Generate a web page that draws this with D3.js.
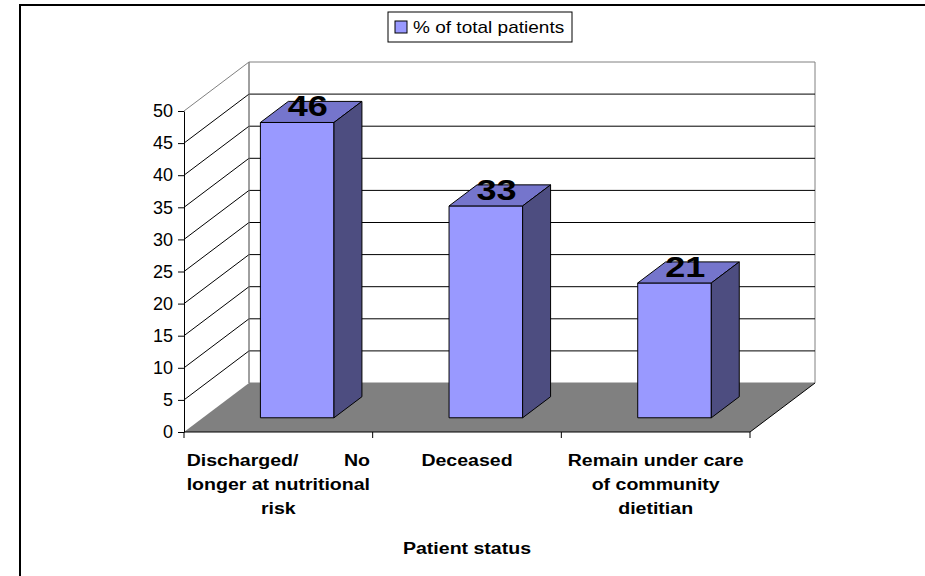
<!DOCTYPE html>
<html>
<head>
<meta charset="utf-8">
<script src="https://cdn.jsdelivr.net/npm/d3@7"></script>
<style>
  body { margin: 0; background: #fff; }
  svg { display: block; font-family: Arial, "Liberation Sans", sans-serif; }
</style>
</head>
<body>
<div id="chart"></div>
<script>
// data
const categories = ['Discharged/ No longer at nutritional risk', 'Deceased', 'Remain under care of community dietitian'];
const values = [46, 33, 21];
const categoryLines = [
  [['Discharged/', 'No'], 'longer at nutritional', 'risk'],
  ['Deceased'],
  ['Remain under care', 'of community', 'dietitian']
];
const yTicks = [0, 5, 10, 15, 20, 25, 30, 35, 40, 45, 50];
const seriesName = '% of total patients';
const xTitle = 'Patient status';

const width = 925;
const height = 576;

// 3d projection: depth offset of the back wall
const depth = { dx: 65, dy: 49 };
const barDepth = [0.29, 0.72];
// the source text is a little wider than plain Arial
const stretch = 1.15;

const colors = {
  front: '#9999ff',
  top: '#7575cc',
  side: '#4d4d80',
  floor: '#808080',
  wallEdge: '#808080'
};

const svg = d3.select('#chart')
  .append('svg')
  .attr('width', width)
  .attr('height', height);

// text placed at (px, py) and stretched horizontally
function wideText(parent, px, py, str, anchor, sx = stretch) {
  return parent.append('text')
    .attr('transform', `translate(${px},${py}) scale(${sx},1)`)
    .attr('text-anchor', anchor)
    .text(str);
}

// outer chart frame
svg.append('rect')
  .attr('x', 20)
  .attr('y', 5)
  .attr('width', 940)
  .attr('height', 600)
  .attr('fill', 'none')
  .attr('stroke', '#000')
  .attr('stroke-width', 2);

const x = d3.scaleBand().domain(categories).range([184, 750]).padding(0);
const y = d3.scaleLinear().domain([0, 50]).range([432, 111]);
const barW = x.bandwidth() * 0.39;

const [x0, x1] = x.range();
const p = (px, v, d) => [px + d * depth.dx, y(v) - d * depth.dy];

// left wall and back wall
const plot = svg.append('g');
plot.append('path')
  .attr('d', d3.line()([p(x0, 0, 1), p(x1, 0, 1), p(x1, 50, 1), p(x0, 50, 1)]) + 'Z')
  .attr('fill', '#fff')
  .attr('stroke', colors.wallEdge);

// floor
plot.append('path')
  .attr('d', d3.line()([p(x0, 0, 0), p(x1, 0, 0), p(x1, 0, 1), p(x0, 0, 1)]) + 'Z')
  .attr('fill', colors.floor)
  .attr('stroke', 'none');
plot.append('line')
  .attr('x1', p(x1, 0, 0)[0]).attr('y1', p(x1, 0, 0)[1])
  .attr('x2', p(x1, 0, 1)[0]).attr('y2', p(x1, 0, 1)[1])
  .attr('stroke', '#000');

// gridlines: diagonal on the left wall, horizontal on the back wall
const grid = yTicks.filter(v => v > 0);
plot.selectAll('.diag')
  .data(grid)
  .join('line')
  .attr('x1', v => p(x0, v, 0)[0]).attr('y1', v => p(x0, v, 0)[1])
  .attr('x2', v => p(x0, v, 1)[0]).attr('y2', v => p(x0, v, 1)[1])
  .attr('stroke', v => v === 50 ? colors.wallEdge : '#000');
plot.selectAll('.hgrid')
  .data(grid.filter(v => v < 50))
  .join('line')
  .attr('x1', v => p(x0, v, 1)[0]).attr('y1', v => p(x0, v, 1)[1])
  .attr('x2', v => p(x1, v, 1)[0]).attr('y2', v => p(x1, v, 1)[1])
  .attr('stroke', '#000');
plot.append('line')
  .attr('x1', p(x0, 0, 1)[0]).attr('y1', p(x0, 0, 1)[1])
  .attr('x2', p(x0, 50, 1)[0]).attr('y2', p(x0, 50, 1)[1])
  .attr('stroke', colors.wallEdge);

// bars
const bars = plot.selectAll('.bar')
  .data(categories.map((c, i) => ({ c, v: values[i] })))
  .join('g');

bars.each(function (d) {
  const g = d3.select(this);
  const left = x(d.c) + (x.bandwidth() - barW) / 2;
  const right = left + barW;
  const [a, b] = barDepth;
  const poly = pts => d3.line()(pts) + 'Z';
  // front
  g.append('path')
    .attr('d', poly([p(left, 0, a), p(right, 0, a), p(right, d.v, a), p(left, d.v, a)]))
    .attr('fill', colors.front).attr('stroke', '#000');
  // top
  g.append('path')
    .attr('d', poly([p(left, d.v, a), p(right, d.v, a), p(right, d.v, b), p(left, d.v, b)]))
    .attr('fill', colors.top).attr('stroke', '#000');
  // side
  g.append('path')
    .attr('d', poly([p(right, 0, a), p(right, 0, b), p(right, d.v, b), p(right, d.v, a)]))
    .attr('fill', colors.side).attr('stroke', '#000');
  // value label
  const c = p(x(d.c) + x.bandwidth() / 2 - 3, d.v, 0.5);
  wideText(g, c[0], c[1] + 4, d.v, 'middle', 1.2)
    .style('font-size', '30px')
    .style('font-weight', 'bold');
});

// y axis
const gy = svg.append('g').attr('transform', `translate(${x0},0)`);
gy.call(d3.axisLeft(y).tickValues(yTicks).tickSize(6).tickSizeOuter(0).tickPadding(5));
gy.select('.domain').attr('stroke', '#000');
gy.selectAll('.tick line').attr('stroke', '#000');
gy.selectAll('.tick text')
  .attr('fill', '#000')
  .style('font-size', '18px')
  .style('font-family', 'Arial, "Liberation Sans", sans-serif');

// x axis: line and ticks at category boundaries
const xAxis = svg.append('g');
xAxis.append('line')
  .attr('x1', x0).attr('x2', x1)
  .attr('y1', y(0)).attr('y2', y(0))
  .attr('stroke', '#000');
const bounds = [x0].concat(categories.map(c => x(c) + x.step()));
xAxis.selectAll('.xt')
  .data(bounds)
  .join('line')
  .attr('x1', d => d).attr('x2', d => d)
  .attr('y1', y(0)).attr('y2', y(0) + 6)
  .attr('stroke', '#000');

// category labels
const lineH = 24;
categoryLines.forEach((lines, i) => {
  const cx = x(categories[i]) + x.bandwidth() / 2;
  const g = svg.append('g')
    .style('font-size', '17px')
    .style('font-weight', 'bold');
  // width of the widest plain line, used to justify split lines
  let maxW = 0;
  const split = [];
  lines.forEach((ln, j) => {
    if (typeof ln === 'string') {
      const t = wideText(g, cx, 466 + j * lineH, ln, 'middle');
      maxW = Math.max(maxW, t.node().getComputedTextLength() * stretch);
    } else {
      split.push([ln, j]);
    }
  });
  split.forEach(([ln, j]) => {
    wideText(g, cx - maxW / 2, 466 + j * lineH, ln[0], 'start');
    wideText(g, cx + maxW / 2, 466 + j * lineH, ln[1], 'end');
  });
});

// axis title
wideText(svg, (x0 + x1) / 2, 554, xTitle, 'middle')
  .style('font-size', '17px')
  .style('font-weight', 'bold');

// legend
const legend = svg.append('g');
legend.append('rect')
  .attr('x', 388).attr('y', 12)
  .attr('width', 184).attr('height', 30)
  .attr('fill', '#fff').attr('stroke', '#000');
legend.append('rect')
  .attr('x', 395).attr('y', 21)
  .attr('width', 12).attr('height', 12)
  .attr('fill', colors.front).attr('stroke', '#000');
wideText(legend, 413, 33, seriesName, 'start', 1.12)
  .style('font-size', '17px');
</script>
</body>
</html>
